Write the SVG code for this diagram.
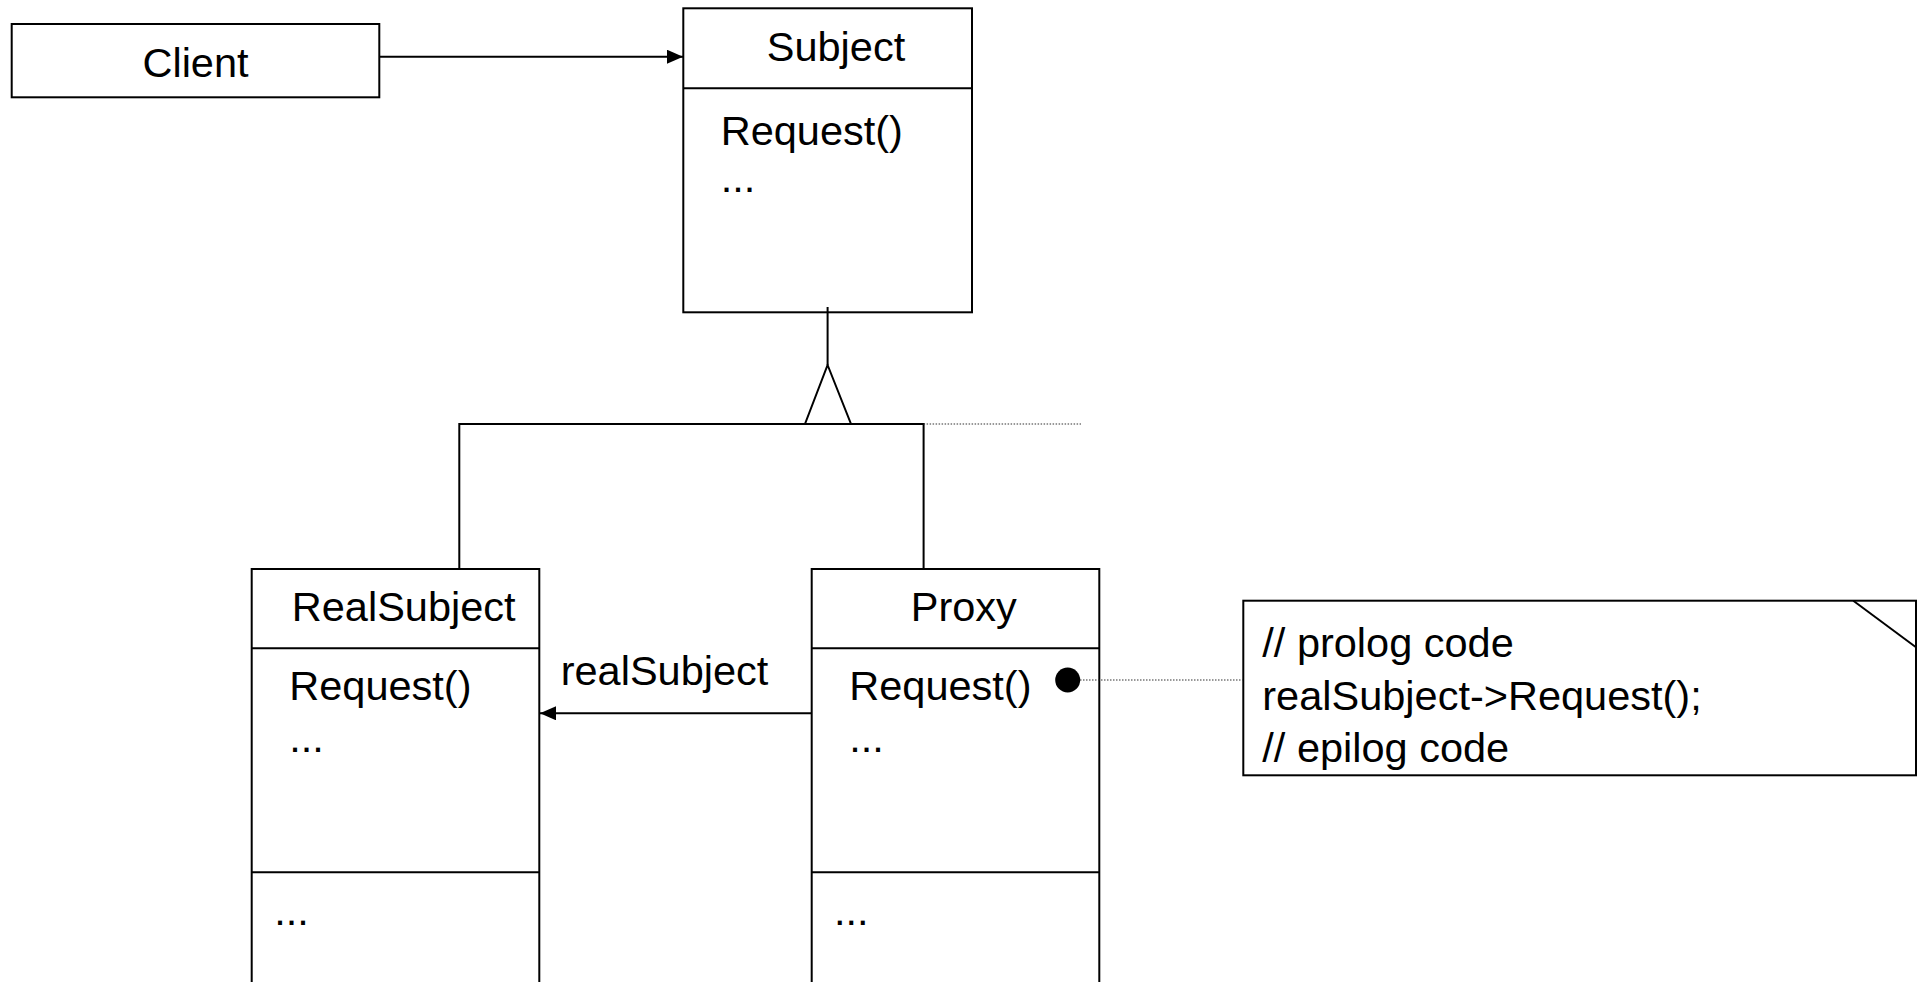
<svg xmlns="http://www.w3.org/2000/svg" width="1924" height="982" viewBox="0 0 1924 982">
<style>
  .box { fill: #ffffff; stroke: #000000; stroke-width: 2; }
  .ln { fill: none; stroke: #000000; stroke-width: 2; }
  .dot { fill: none; stroke: #333333; stroke-width: 1.2; stroke-dasharray: 1.5 1.5; }
  text { font-family: "Liberation Sans", Arial, Helvetica, sans-serif; font-size: 41.5px; fill: #000000; }
  .c { text-anchor: middle; }
</style>
<defs>
  <marker id="arrow" markerWidth="16" markerHeight="14" refX="16" refY="7" orient="auto" markerUnits="userSpaceOnUse">
    <path d="M0,0 L16,7 L0,14 Z" fill="#000000"/>
  </marker>
</defs>
<rect x="0" y="0" width="1924" height="982" fill="#ffffff"/>

<g id="client">
  <rect class="box" x="11.7" y="24" width="367.6" height="73.3"/>
  <text class="c" x="195.5" y="76.7">Client</text>
</g>

<g id="subject">
  <rect class="box" x="683.3" y="8.3" width="288.7" height="304"/>
  <line class="ln" x1="683.3" y1="88.3" x2="972" y2="88.3"/>
  <text class="c" x="836" y="61">Subject</text>
  <text x="720.7" y="145">Request()</text>
  <text x="720.7" y="192">...</text>
</g>

<g id="realsubject">
  <rect class="box" x="251.7" y="569" width="287.6" height="430"/>
  <line class="ln" x1="251.7" y1="648.3" x2="539.3" y2="648.3"/>
  <line class="ln" x1="251.7" y1="872.3" x2="539.3" y2="872.3"/>
  <text class="c" x="403.7" y="621">RealSubject</text>
  <text x="289.3" y="700">Request()</text>
  <text x="289.3" y="752">...</text>
  <text x="274.3" y="925">...</text>
</g>

<g id="proxy">
  <rect class="box" x="811.7" y="569" width="287.6" height="430"/>
  <line class="ln" x1="811.7" y1="648.3" x2="1099.3" y2="648.3"/>
  <line class="ln" x1="811.7" y1="872.3" x2="1099.3" y2="872.3"/>
  <text class="c" x="963.8" y="621">Proxy</text>
  <text x="849.3" y="700">Request()</text>
  <text x="849.3" y="752">...</text>
  <text x="834" y="925">...</text>
</g>

<g id="note">
  <rect class="box" x="1243.3" y="600.7" width="672.7" height="174.6"/>
  <line class="ln" x1="1853.3" y1="600.7" x2="1916" y2="647.3"/>
  <text x="1262.3" y="657">// prolog code</text>
  <text x="1262.3" y="710">realSubject-&gt;Request();</text>
  <text x="1262.3" y="762">// epilog code</text>
</g>

<g id="connectors">
  <line class="ln" x1="379" y1="56.7" x2="683" y2="56.7" marker-end="url(#arrow)"/>
  <line class="ln" x1="827.6" y1="307" x2="827.6" y2="365"/>
  <polyline class="ln" points="459.3,569 459.3,424 923.6,424 923.6,569"/>
  <polygon class="box" points="827.6,365 851,424 805,424"/>
  <line class="dot" x1="923.6" y1="424" x2="1081" y2="424"/>
  <line class="ln" x1="811.7" y1="713.3" x2="540" y2="713.3" marker-end="url(#arrow)"/>
  <text x="560.7" y="685">realSubject</text>
  <line class="dot" x1="1080" y1="680" x2="1243" y2="680"/>
  <circle cx="1067.7" cy="680" r="12.5" fill="#000000"/>
</g>
</svg>
